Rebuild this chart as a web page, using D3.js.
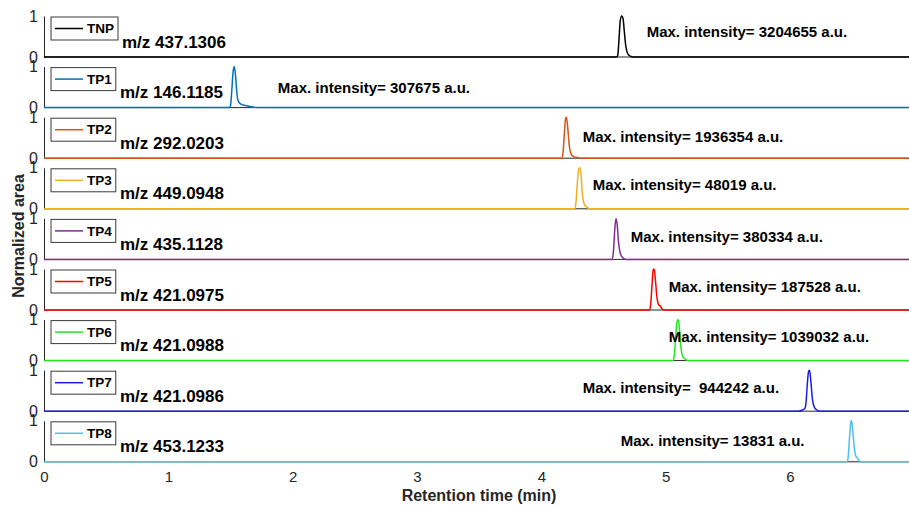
<!DOCTYPE html>
<html>
<head>
<meta charset="utf-8">
<script src="https://cdn.jsdelivr.net/npm/d3@7"></script>
<style>
  html, body { margin: 0; padding: 0; background: #fff; }
  svg { display: block; font-family: "Liberation Sans", Arial, Helvetica, sans-serif; }
</style>
</head>
<body>
<svg id="chart" width="909" height="506"></svg>
<script>
// Compound names, accurate masses and maximum intensities
const names = ["TNP", "TP1", "TP2", "TP3", "TP4", "TP5", "TP6", "TP7", "TP8"];
const mzLabels = ["m/z 437.1306", "m/z 146.1185", "m/z 292.0203", "m/z 449.0948", "m/z 435.1128",
                  "m/z 421.0975", "m/z 421.0988", "m/z 421.0986", "m/z 453.1233"];
const maxIntensity = [3204655, 307675, 1936354, 48019, 380334, 187528, 1039032, 944242, 13831];
const colors = ["#000000", "#0072BD", "#D95319", "#EDB120", "#7E2F8E", "#FF0000", "#22E622", "#1C1CE8", "#4DBEEE"];

// Annotation anchors (retention time, normalized height)
const noteTime = [4.847, 1.881, 4.333, 4.413, 4.719, 5.024, 5.024, 4.333, 4.638];
const noteLevel = [0.61, 0.48, 0.52, 0.58, 0.55, 0.56, 0.58, 0.57, 0.51];

// Extracted ion chromatograms (retention time in min, normalized area)
const tnpTime = [0, 4.605, 4.615, 4.625, 4.635, 4.647, 4.658, 4.668, 4.68, 4.695, 4.715, 4.735, 6.96];
const tnpInt  = [0, 0, 0.05, 0.45, 0.9, 1.0, 0.92, 0.6, 0.25, 0.08, 0.02, 0, 0];
const tp1Time = [0, 1.49, 1.50, 1.51, 1.52, 1.53, 1.54, 1.55, 1.56, 1.58, 1.62, 1.67, 1.72, 6.96];
const tp1Int  = [0, 0, 0.05, 0.4, 0.85, 1.0, 0.8, 0.4, 0.18, 0.09, 0.05, 0.02, 0, 0];
const tp2Time = [0, 4.165, 4.175, 4.185, 4.195, 4.202, 4.212, 4.225, 4.24, 4.26, 4.30, 4.32, 6.96];
const tp2Int  = [0, 0, 0.15, 0.6, 0.97, 1.0, 0.75, 0.3, 0.1, 0.04, 0.01, 0, 0];
const tp3Time = [0, 4.27, 4.28, 4.29, 4.30, 4.31, 4.32, 4.33, 4.345, 4.365, 4.39, 6.96];
const tp3Int  = [0, 0, 0.2, 0.65, 0.97, 1.0, 0.8, 0.35, 0.12, 0.04, 0, 0];
const tp4Time = [0, 4.57, 4.58, 4.59, 4.60, 4.61, 4.62, 4.635, 4.655, 4.68, 6.96];
const tp4Int  = [0, 0, 0.2, 0.7, 1.0, 0.85, 0.45, 0.15, 0.04, 0, 0];
const tp5Time = [0, 4.87, 4.88, 4.89, 4.90, 4.907, 4.917, 4.93, 4.945, 4.955, 4.97, 4.985, 6.96];
const tp5Int  = [0, 0, 0.15, 0.6, 0.98, 1.0, 0.75, 0.3, 0.12, 0.1, 0.03, 0, 0];
const tp6Time = [0, 5.06, 5.07, 5.08, 5.09, 5.10, 5.11, 5.12, 5.135, 5.155, 5.18, 6.96];
const tp6Int  = [0, 0, 0.15, 0.55, 0.93, 1.0, 0.8, 0.4, 0.12, 0.04, 0, 0];
const tp7Time = [0, 6.07, 6.10, 6.12, 6.13, 6.14, 6.15, 6.157, 6.167, 6.18, 6.195, 6.215, 6.24, 6.96];
const tp7Int  = [0, 0, 0.03, 0.07, 0.25, 0.7, 0.98, 1.0, 0.75, 0.3, 0.1, 0.03, 0, 0];
const tp8Time = [0, 6.462, 6.47, 6.48, 6.49, 6.495, 6.505, 6.515, 6.528, 6.545, 6.565, 6.96];
const tp8Int  = [0, 0, 0.2, 0.65, 0.98, 1.0, 0.75, 0.4, 0.15, 0.08, 0, 0];

const xTicks = [0, 1, 2, 3, 4, 5, 6];
const yTicks = [0, 1];

const traces = [
  [tnpTime, tnpInt], [tp1Time, tp1Int], [tp2Time, tp2Int], [tp3Time, tp3Int], [tp4Time, tp4Int],
  [tp5Time, tp5Int], [tp6Time, tp6Int], [tp7Time, tp7Int], [tp8Time, tp8Int]
];

// Layout
const left = 44, right = 909;
const firstBase = 57, step = 50.6, panelH = 41;
const axisColor = "#262626";

const svg = d3.select("#chart");
const x = d3.scaleLinear().domain([0, 6.957]).range([left, right]);

svg.append("defs").append("clipPath").attr("id", "plotClip")
  .append("rect").attr("x", left).attr("y", 0).attr("width", right - left).attr("height", 506);

names.forEach((name, i) => {
  const base = firstBase + i * step;
  const y = d3.scaleLinear().domain([0, 1]).range([base, base - panelH]);
  const g = svg.append("g").attr("class", "panel");

  // Axes: left spine and bottom spine
  const yAxis = d3.axisLeft(y).tickValues(yTicks).tickSize(0).tickPadding(6).tickFormat(d3.format("d"));
  const ya = g.append("g").attr("transform", `translate(${left},0)`).call(yAxis);
  ya.select(".domain").attr("stroke", axisColor).attr("stroke-width", 1);
  ya.selectAll("text").attr("font-size", 16).attr("fill", axisColor)
    .attr("font-family", "'Liberation Sans', Arial, sans-serif");

  g.append("line").attr("x1", left).attr("x2", right).attr("y1", base).attr("y2", base)
    .attr("stroke", axisColor).attr("stroke-width", 1);

  // Chromatogram trace
  const [tArr, vArr] = traces[i];
  const pts = tArr.map((t, k) => [t, vArr[k]]);
  const line = d3.line().x(d => x(d[0])).y(d => y(d[1])).curve(d3.curveMonotoneX);
  g.append("path").datum(pts).attr("d", line)
    .attr("fill", "none").attr("stroke", colors[i]).attr("stroke-width", 1.5)
    .attr("clip-path", "url(#plotClip)");

  // Legend box
  const boxTop = base - panelH + 1;
  const lg = g.append("g");
  const rect = lg.append("rect").attr("x", 51).attr("y", boxTop).attr("height", 23)
    .attr("fill", "#fff").attr("stroke", "#3a3a3a").attr("stroke-width", 1);
  lg.append("line").attr("x1", 55).attr("x2", 83).attr("y1", boxTop + 11.5).attr("y2", boxTop + 11.5)
    .attr("stroke", colors[i]).attr("stroke-width", 1.5);
  const lt = lg.append("text").attr("x", 87).attr("y", boxTop + 11.5).attr("dy", "0.35em")
    .attr("font-size", 13.5).attr("font-weight", "bold").attr("fill", "#000").text(name);
  const tw = lt.node().getComputedTextLength();
  rect.attr("width", 87 + tw + 4 - 51);

  // m/z label
  g.append("text").attr("x", i === 0 ? 122 : 120).attr("y", base - 9.5)
    .attr("font-size", 17).attr("font-weight", "bold").attr("fill", "#000").text(mzLabels[i]);

  // Maximum intensity annotation
  const gap = name === "TP7" ? "\u00a0\u00a0" : " ";
  g.append("text").attr("x", x(noteTime[i])).attr("y", y(noteLevel[i])).attr("dy", "0.35em")
    .attr("font-size", 15).attr("font-weight", "bold").attr("fill", "#000")
    .text("Max. intensity=" + gap + maxIntensity[i] + " a.u.");
});

// Bottom time axis labels
const lastBase = firstBase + (names.length - 1) * step;
const xAxis = d3.axisBottom(x).tickValues(xTicks).tickSize(0).tickPadding(10).tickFormat(d3.format("d"));
const xa = svg.append("g").attr("transform", `translate(0,${lastBase})`).call(xAxis);
xa.select(".domain").remove();
xa.selectAll("text").attr("font-size", 15).attr("fill", axisColor)
  .attr("font-family", "'Liberation Sans', Arial, sans-serif");

svg.append("text").attr("x", 479).attr("y", 501).attr("text-anchor", "middle")
  .attr("font-size", 16).attr("font-weight", "bold").attr("fill", axisColor)
  .text("Retention time (min)");

svg.append("text").attr("transform", "translate(24,236) rotate(-90)").attr("text-anchor", "middle")
  .attr("font-size", 16).attr("font-weight", "bold").attr("fill", axisColor)
  .text("Normalized area");
</script>
</body>
</html>
